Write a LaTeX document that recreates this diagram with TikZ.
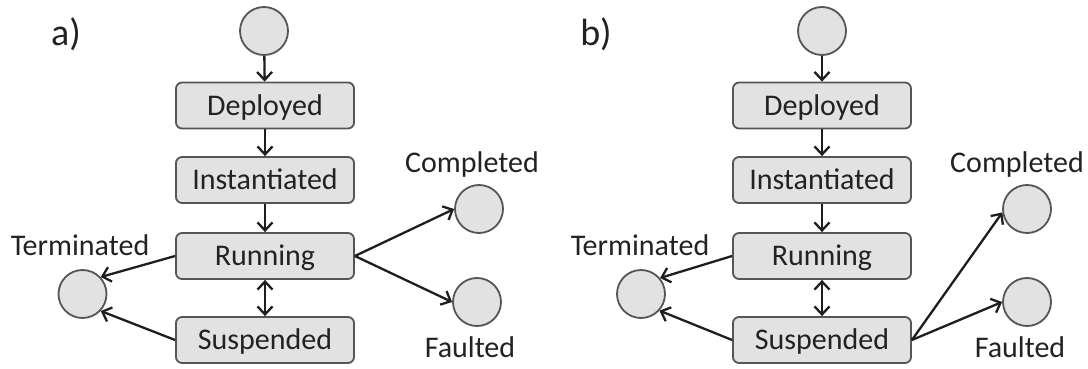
\documentclass[tikz,border=0pt]{standalone}
\usepackage{fontspec}
\setmainfont{Carlito}
\usetikzlibrary{arrows.meta}
\definecolor{boxfill}{HTML}{E2E2E2}
\definecolor{boxline}{HTML}{555555}
\definecolor{arrowc}{HTML}{1E1E1E}
\definecolor{txt}{HTML}{222222}
\begin{document}
\begin{tikzpicture}[x=1pt,y=-1pt,
  state/.style={draw=boxline, fill=boxfill, rounded corners=6pt, line width=1.8pt,
    minimum width=178pt, minimum height=46pt, inner sep=0pt,
    text height=19pt, text depth=0pt, font=\fontsize{30}{34}\selectfont, text=txt},
  pt/.style={circle, draw=boxline, fill=boxfill, line width=1.8pt,
    minimum size=48pt, inner sep=0pt},
  lbl/.style={anchor=base, inner sep=0pt, font=\fontsize{30}{34}\selectfont, text=txt},
  tag/.style={inner sep=0pt, font=\fontsize{38}{42}\selectfont, text=txt},
  arr/.style={draw=arrowc, line width=2.3pt, -{Straight Barb[length=8pt,width=15pt]}},
  darr/.style={draw=arrowc, line width=2.3pt,
    {Straight Barb[length=8pt,width=15pt]}-{Straight Barb[length=8pt,width=15pt]}}
]
\useasboundingbox (0,0) rectangle (1088,369);

% ---- (a) suspended state leads only back to running or to termination
\node[tag] (taga) at (66,34) {a)};
\node[pt] (starta) at (264,31) {};
\node[state] (depa) at (265,105.5) {Deployed};
\node[state] (insa) at (265,180) {Instantiated};
\node[state] (runa) at (265,256) {Running};
\node[state] (susa) at (265,340) {Suspended};
\node[pt] (terma) at (82.5,294) {};
\node[pt] (compa) at (479,209) {};
\node[pt] (faula) at (477,302) {};
\node[lbl] (termla) at (80,255) {Terminated};
\node[lbl] (compla) at (472,172) {Completed};
\node[lbl] (faulla) at (470,357) {Faulted};

\draw[arr] (starta) -- (depa);
\draw[arr] (depa) -- (insa);
\draw[arr] (insa) -- (runa);
\draw[darr] (runa) -- (susa);
\draw[arr] (runa.west) -- (terma.43);
\draw[arr] (susa.west) -- (terma.-43);
\draw[arr] (runa.east) -- (compa.west);
\draw[arr] (runa.east) -- (faula.west);

% ---- (b) completion and faults are reached from the suspended state
\node[tag] (tagb) at (596,34) {b)};
\node[pt] (startb) at (822,31) {};
\node[state] (depb) at (822,105.5) {Deployed};
\node[state] (insb) at (822,180) {Instantiated};
\node[state] (runb) at (822,256) {Running};
\node[state] (susb) at (822,340) {Suspended};
\node[pt] (termb) at (641,294) {};
\node[pt] (compb) at (1027,209) {};
\node[pt] (faulb) at (1027,302) {};
\node[lbl] (termlb) at (640,255) {Terminated};
\node[lbl] (complb) at (1017,172) {Completed};
\node[lbl] (faullb) at (1020,357) {Faulted};

\draw[arr] (startb) -- (depb);
\draw[arr] (depb) -- (insb);
\draw[arr] (insb) -- (runb);
\draw[darr] (runb) -- (susb);
\draw[arr] (runb.west) -- (termb.40);
\draw[arr] (susb.west) -- (termb.-42);
\draw[arr] (susb.east) -- (compb.188);
\draw[arr] (susb.east) -- (faulb.west);
\end{tikzpicture}
\end{document}
